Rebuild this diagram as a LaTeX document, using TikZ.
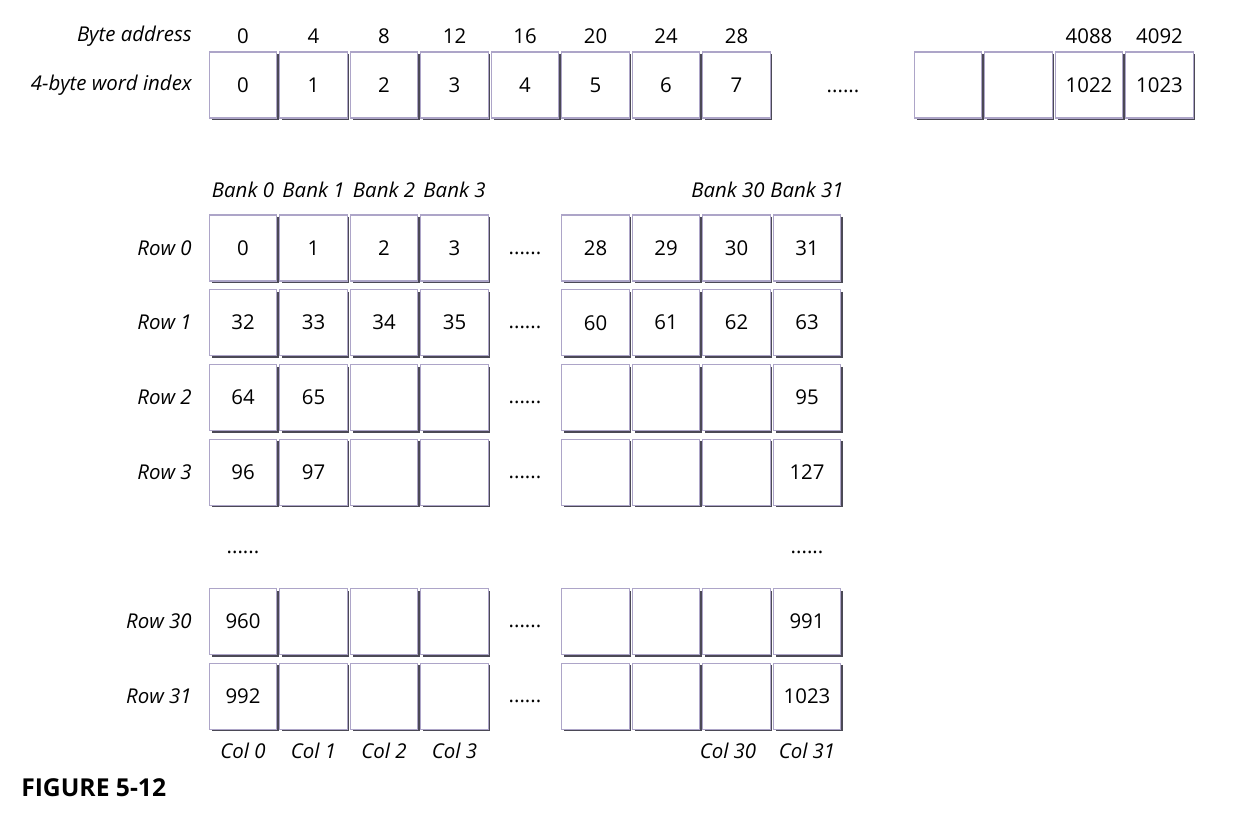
\documentclass[tikz,border=0pt]{standalone}
\usepackage{fontspec}
\setmainfont{Open Sans}[Numbers=Lining]
\usetikzlibrary{shadows}
\definecolor{cellline}{HTML}{ADA5C8}
\definecolor{cellshade}{HTML}{4B4956}

\begin{document}
\begin{tikzpicture}[
  x=0.75pt, y=-0.75pt,
  font=\fontsize{15.3}{18}\selectfont,
  cell/.style={rectangle, draw=cellline, line width=0.9pt, fill=white,
               minimum width=50.5pt, minimum height=49.5pt, inner sep=0pt,
               general shadow={fill=cellshade, shadow xshift=1.7pt, shadow yshift=-1.7pt}},
  lbl/.style={font=\fontsize{15.3}{18}\selectfont\itshape},
  rowlbl/.style={lbl, anchor=east, inner sep=0pt},
  dots/.style={inner sep=0pt, anchor=base}]

  \useasboundingbox (0,0) rectangle (1242,826);

  % word index lane
  \node[rowlbl] (byteaddr) at (192,36) {Byte address};
  \node[rowlbl] (wordidx) at (192,85) {4-byte word index};
  \foreach \i/\a in {0/0,1/4,2/8,3/12,4/16,5/20,6/24,7/28} {
    \node[cell] (w\i) at (243+70.5*\i, 85) {\i};
    \node (a\i) at (243+70.5*\i, 36) {\a};
  }
  \node[dots] (wdots) at (843,92) {......};
  \foreach \i/\t in {10/,11/,12/1022,13/1023}
    \node[cell] (w\i) at (243+70.5*\i, 85) {\t};
  \node (a12) at (1089,36) {4088};
  \node (a13) at (1159.5,36) {4092};

  % banks
  \foreach \i/\b in {0/0,1/1,2/2,3/3,8/31}
    \node[lbl] (bank\b) at (243+70.5*\i, 190) {Bank \b};
  \node[lbl] (bank30) at (728,190) {Bank 30};

  % grid rows
  \foreach \i/\t in {0/0,1/1,2/2,3/3,5/28,6/29,7/30,8/31}
    \node[cell] (r0-\i) at (243+70.5*\i, 248) {\t};
  \foreach \i/\t in {0/32,1/33,2/34,3/35,5/60,6/61,7/62,8/63}
    \node[cell] (r1-\i) at (243+70.5*\i, 322.7) {\t};
  \foreach \i/\t in {0/64,1/65,2/,3/,5/,6/,7/,8/95}
    \node[cell] (r2-\i) at (243+70.5*\i, 397.4) {\t};
  \foreach \i/\t in {0/96,1/97,2/,3/,5/,6/,7/,8/127}
    \node[cell] (r3-\i) at (243+70.5*\i, 472.1) {\t};
  \foreach \i/\t in {0/960,1/,2/,3/,5/,6/,7/,8/991}
    \node[cell] (r30-\i) at (243+70.5*\i, 621.5) {\t};
  \foreach \i/\t in {0/992,1/,2/,3/,5/,6/,7/,8/1023}
    \node[cell] (r31-\i) at (243+70.5*\i, 696.2) {\t};

  \foreach \r/\y in {0/248,1/322.7,2/397.4,3/472.1,30/621.5,31/696.2} {
    \node[rowlbl] (row\r) at (192,\y) {Row \r};
    \node[dots] (rdots\r) at (525,\y+6) {......};
  }
  \node[dots] (vdots0) at (243,553) {......};
  \node[dots] (vdots31) at (807,553) {......};

  % columns
  \foreach \i/\c in {0/0,1/1,2/2,3/3,8/31}
    \node[lbl] (col\c) at (243+70.5*\i, 751) {Col \c};
  \node[lbl] (col30) at (728,751) {Col 30};

  \node[anchor=west, inner sep=0pt, font=\fontsize{18.5}{21}\selectfont\bfseries] (caption) at (21,788) {FIGURE 5-12};
\end{tikzpicture}
\end{document}
